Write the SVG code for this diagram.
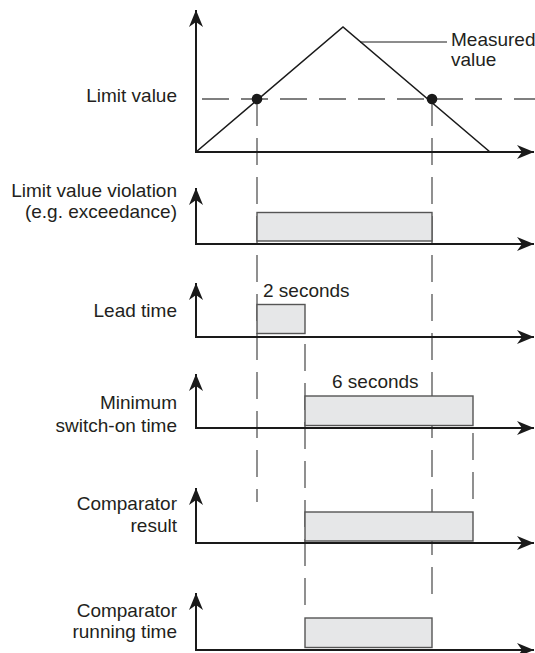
<svg xmlns="http://www.w3.org/2000/svg" width="535" height="653" viewBox="0 0 535 653">
<style>
text{font-family:"Liberation Sans",Arial,sans-serif;font-size:19px;fill:#231f20}
.lbl{text-anchor:end}
.ax{stroke:#1a1a1a;stroke-width:2;fill:none}
.dash{stroke:#555;stroke-width:1.3;fill:none;stroke-dasharray:27 12}
.bar{fill:#e6e7e8;stroke:#555;stroke-width:1.4}
.meas{stroke:#1a1a1a;stroke-width:1.6;fill:none}
</style>
<defs>
<marker id="arr" markerUnits="userSpaceOnUse" markerWidth="20" markerHeight="16" refX="18" refY="8" orient="auto" overflow="visible">
<path d="M18,8 L1,1 L6,8 L1,15 Z" fill="#1a1a1a"/>
</marker>
</defs>
<rect width="535" height="653" fill="#fff"/>
<g id="connectors">
<line class="dash" x1="196" y1="99" x2="535" y2="99" stroke-dashoffset="-6"/>
<line class="dash" x1="257" y1="99" x2="257" y2="502"/>
<line class="dash" x1="432" y1="99" x2="432" y2="606"/>
<line class="dash" x1="305" y1="338" x2="305" y2="607" stroke-dashoffset="-6"/>
<line class="dash" x1="473" y1="433" x2="473" y2="502"/>
</g>
<g id="chart-measured">
<line class="ax" x1="196" y1="153" x2="196" y2="10" marker-end="url(#arr)"/>
<line class="ax" x1="195" y1="152" x2="534" y2="152" marker-end="url(#arr)"/>
<polyline class="meas" points="196,152 343,27 490,152"/>
<line x1="360" y1="42" x2="447" y2="42" stroke="#1a1a1a" stroke-width="1"/>
<circle cx="257" cy="99" r="5.3" fill="#1a1a1a"/>
<circle cx="432" cy="99" r="5.3" fill="#1a1a1a"/>
<text x="451" y="46">Measured</text>
<text x="451" y="66">value</text>
<text class="lbl" x="177" y="102">Limit value</text>
</g>
<g id="chart-violation">
<rect class="bar" x="257" y="212.5" width="175" height="28.5"/>
<line class="ax" x1="196" y1="245" x2="196" y2="188" marker-end="url(#arr)"/>
<line class="ax" x1="195" y1="244" x2="534" y2="244" marker-end="url(#arr)"/>
<text class="lbl" x="177" y="196.5">Limit value violation</text>
<text class="lbl" x="177" y="218">(e.g. exceedance)</text>
</g>
<g id="chart-lead">
<rect class="bar" x="257" y="304.5" width="48" height="29"/>
<line class="ax" x1="196" y1="338" x2="196" y2="283" marker-end="url(#arr)"/>
<line class="ax" x1="195" y1="337" x2="534" y2="337" marker-end="url(#arr)"/>
<text x="263" y="297">2 seconds</text>
<text class="lbl" x="177" y="317">Lead time</text>
</g>
<g id="chart-minimum">
<rect class="bar" x="305" y="396" width="168" height="29.5"/>
<line class="ax" x1="196" y1="429" x2="196" y2="374" marker-end="url(#arr)"/>
<line class="ax" x1="195" y1="428" x2="534" y2="428" marker-end="url(#arr)"/>
<text x="332" y="388">6 seconds</text>
<text class="lbl" x="177" y="409">Minimum</text>
<text class="lbl" x="177" y="431.5">switch-on time</text>
</g>
<g id="chart-result">
<rect class="bar" x="305" y="512" width="168" height="29"/>
<line class="ax" x1="196" y1="544" x2="196" y2="488" marker-end="url(#arr)"/>
<line class="ax" x1="195" y1="543" x2="534" y2="543" marker-end="url(#arr)"/>
<text class="lbl" x="177" y="510">Comparator</text>
<text class="lbl" x="177" y="532">result</text>
</g>
<g id="chart-running">
<rect class="bar" x="305" y="618" width="127" height="29.5"/>
<line class="ax" x1="196" y1="651" x2="196" y2="593" marker-end="url(#arr)"/>
<line class="ax" x1="195" y1="650" x2="534" y2="650" marker-end="url(#arr)"/>
<text class="lbl" x="177" y="616.5">Comparator</text>
<text class="lbl" x="177" y="638">running time</text>
</g>
</svg>
